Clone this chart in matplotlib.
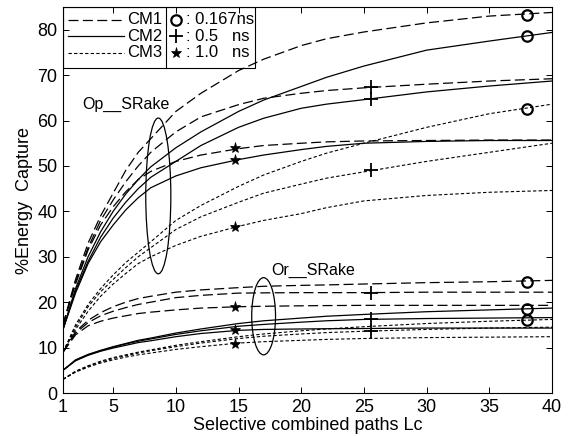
import matplotlib
matplotlib.use("Agg")
from matplotlib import pyplot as plt
from matplotlib.lines import Line2D
from matplotlib.patches import Ellipse, Rectangle

plt.rcParams["font.family"] = ["Liberation Sans", "DejaVu Sans"]

# selective combined paths
lc = [1, 2, 3, 4, 5, 6, 7, 8, 10, 12, 15, 17, 20, 22, 25, 30, 35, 40]

# Op_SRake  (upper group)
op_cm1 = {
    "0.167": [15, 25, 33, 39, 44, 49, 53, 56, 62, 66, 71, 73.5, 76.5, 78, 79.5, 81.5, 83, 83.8],
    "0.5": [15, 24.5, 32, 38, 42.5, 46.5, 50, 53, 57.5, 60.8, 63.5, 64.9, 66, 66.6, 67.2, 68, 68.7, 69.2],
    "1.0": [15, 24, 31.5, 37, 41, 44.3, 47, 48.8, 51, 52.4, 53.8, 54.5, 55, 55.3, 55.5, 55.6, 55.7, 55.7],
}
op_cm2 = {
    "0.167": [14, 23, 30, 35.5, 40, 43.8, 47, 49.8, 54, 57.5, 62, 64.5, 67.5, 69.5, 72, 75.5, 77.5, 79.4],
    "0.5": [14, 22.5, 29, 34.3, 38.5, 42, 45, 47.5, 51, 54.5, 58.5, 60.5, 62.7, 63.6, 64.6, 66.3, 67.6, 68.7],
    "1.0": [14, 22, 28.5, 33.3, 37, 40.3, 43, 45.2, 47.8, 49.6, 51.4, 52.4, 53.6, 54.3, 55.0, 55.4, 55.6, 55.6],
}
op_cm3 = {
    "0.167": [9, 15, 19.5, 23, 26, 28.7, 31, 33.3, 38, 41.3, 45.5, 48, 51, 52.8, 55, 58.5, 61.5, 63.6],
    "0.5": [9, 14.5, 19, 22.3, 25, 27.6, 30, 32, 36, 38.8, 42, 44, 46, 47.3, 48.7, 51, 53, 55],
    "1.0": [9, 14, 18, 21.3, 24, 26.3, 28.5, 30, 32.5, 34.5, 36.7, 38, 39.5, 40.8, 42.3, 43.5, 44.2, 44.6],
}

# Or_SRake  (lower group)
or_cm1 = {
    "0.167": [9, 13.5, 16, 17.7, 19, 20, 20.8, 21.3, 22.2, 22.7, 23.2, 23.5, 23.7, 23.8, 24, 24.3, 24.5, 24.8],
    "0.5": [9, 13.2, 15.5, 17, 18, 18.8, 19.5, 20, 21, 21.5, 22, 22.05, 22.1, 22.1, 22.1, 22.2, 22.2, 22.2],
    "1.0": [9, 12.8, 14.8, 15.8, 16.5, 17, 17.5, 17.8, 18.3, 18.7, 19, 19.1, 19.2, 19.25, 19.3, 19.3, 19.3, 19.3],
}
or_cm2 = {
    "0.167": [5, 7.3, 8.5, 9.4, 10.2, 10.9, 11.6, 12.1, 13.2, 14.1, 15.3, 15.9, 16.5, 16.9, 17.3, 17.9, 18.3, 18.7],
    "0.5": [5, 7.2, 8.4, 9.3, 10.1, 10.8, 11.4, 11.9, 12.9, 13.7, 14.7, 15.1, 15.6, 15.9, 16.2, 16.4, 16.5, 16.6],
    "1.0": [5, 7.1, 8.3, 9.2, 9.9, 10.5, 11.1, 11.5, 12.4, 13.1, 13.8, 14, 14.1, 14.15, 14.2, 14.3, 14.3, 14.3],
}
or_cm3 = {
    "0.167": [3, 4.8, 6, 7, 7.8, 8.4, 9, 9.5, 10.5, 11.3, 12.4, 13, 13.7, 14.1, 14.6, 15.3, 15.8, 16.2],
    "0.5": [3, 4.7, 5.9, 6.8, 7.6, 8.2, 8.8, 9.3, 10.2, 11, 12, 12.5, 13, 13.3, 13.6, 14, 14.3, 14.5],
    "1.0": [3, 4.6, 5.7, 6.6, 7.3, 7.9, 8.4, 8.8, 9.6, 10.2, 11, 11.3, 11.6, 11.8, 12, 12.2, 12.3, 12.4],
}

# resolution markers: position along Lc and the curve values there (CM1, CM2, CM3)
mark_x = {"0.167": 38, "0.5": 25.6, "1.0": 14.7}
op_marks = {"0.167": [83.3, 78.6, 62.6], "0.5": [67.3, 64.8, 49.1], "1.0": [53.9, 51.3, 36.5]}
or_marks = {"0.167": [24.4, 18.5, 16.0], "0.5": [22.0, 16.3, 13.6], "1.0": [19.0, 13.8, 10.9]}

x_ticks = [1, 5, 10, 15, 20, 25, 30, 35, 40]
y_ticks = [0, 10, 20, 30, 40, 50, 60, 70, 80]

styles = {
    "CM1": dict(color="black", lw=0.9, dashes=(8, 3.5)),
    "CM2": dict(color="black", lw=0.9, linestyle="-"),
    "CM3": dict(color="black", lw=0.8, dashes=(3, 2)),
}
markers = {
    "0.167": dict(marker="o", ms=7.5, mfc="none", mec="black", mew=1.6),
    "0.5": dict(marker="+", ms=10, mec="black", mew=1.3),
    "1.0": dict(marker="*", ms=8, mfc="black", mec="black", mew=0.5),
}

fig = plt.figure(figsize=(5.69, 4.36), dpi=100)
ax = fig.add_axes([63 / 569, 1 - 393 / 436, 489 / 569, 386 / 436])

for group in [(op_cm1, op_cm2, op_cm3), (or_cm1, or_cm2, or_cm3)]:
    for name, data in zip(["CM1", "CM2", "CM3"], group):
        for res, vals in data.items():
            ax.plot(lc, vals, **styles[name])

for marks in [op_marks, or_marks]:
    for res, vals in marks.items():
        ax.plot([mark_x[res]] * len(vals), vals, linestyle="none", **markers[res])

# group ellipses and labels
ax.add_patch(Ellipse((8.6, 43.4), 2.0, 34.3, fill=False, color="black", lw=0.9))
ax.add_patch(Ellipse((17.0, 16.9), 1.9, 17.0, fill=False, color="black", lw=0.9))
ax.text(2.5, 63.5, "Op__SRake", fontsize=11.5, va="center", ha="left")
ax.text(17.6, 26.9, "Or__SRake", fontsize=11.5, va="center", ha="left")

ax.set_xlim(1, 40)
ax.set_ylim(0, 85)
ax.set_xticks(x_ticks)
ax.set_yticks(y_ticks)
ax.tick_params(direction="in", length=4, width=0.7, top=True, right=True,
               labelsize=13, pad=4)
for spine in ax.spines.values():
    spine.set_linewidth(0.8)
ax.set_xlabel("Selective combined paths Lc", fontsize=13, labelpad=1)
ax.set_ylabel("%Energy  Capture", fontsize=13, labelpad=3)

# hand-made legend box in the top-left corner
tr = ax.transAxes
ax.add_patch(Rectangle((0, 0.842), 0.393, 0.158, transform=tr, fill=False,
                       color="black", lw=0.8, zorder=5))
ax.add_line(Line2D([0.21, 0.21], [0.842, 1.0], transform=tr, color="black", lw=0.8))
rows = [0.967, 0.924, 0.882]
for name, yy in zip(["CM1", "CM2", "CM3"], rows):
    ax.add_line(Line2D([0.01, 0.125], [yy, yy], transform=tr, **styles[name]))
    ax.text(0.131, yy, name, transform=tr, fontsize=12, va="center", ha="left")
mark_text = {"0.167": ": 0.167ns", "0.5": ": 0.5   ns", "1.0": ": 1.0   ns"}
for res, yy in zip(["0.167", "0.5", "1.0"], rows):
    ax.add_line(Line2D([0.231], [yy], transform=tr, linestyle="none", **markers[res]))
    ax.text(0.252, yy, mark_text[res], transform=tr, fontsize=12, va="center", ha="left")

fig.savefig("out.png", dpi=100)
